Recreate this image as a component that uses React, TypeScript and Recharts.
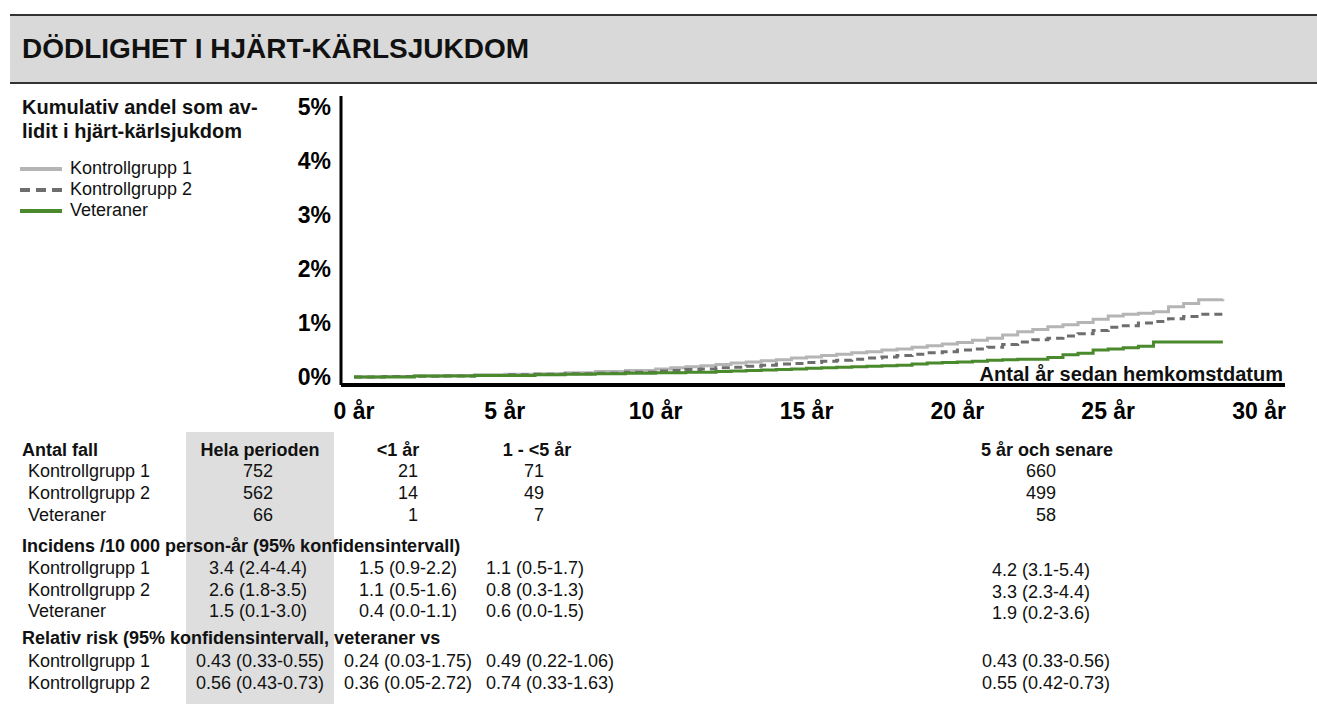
import React from 'react';
import { LineChart, Line, XAxis, YAxis } from 'recharts';

const FONT = '"Liberation Sans", Arial, Helvetica, sans-serif';

// Years since homecoming (step points)
const years = [0, 1, 2, 3, 4, 5, 6, 7, 8, 9, 10, 10.5, 11, 11.5, 12, 12.5, 13, 13.5, 14, 14.5, 15, 15.5, 16, 16.5, 17, 17.5, 18, 18.5, 19, 19.5, 20, 20.5, 21, 21.5, 22, 22.5, 23, 23.5, 24, 24.5, 25, 25.5, 26, 26.5, 27, 27.5, 28, 28.8];
// Cumulative share (%) who died of cardiovascular disease
const kontroll1 = [0, 0.01, 0.02, 0.03, 0.04, 0.05, 0.06, 0.08, 0.1, 0.12, 0.15, 0.17, 0.19, 0.21, 0.23, 0.26, 0.28, 0.3, 0.32, 0.35, 0.37, 0.4, 0.42, 0.45, 0.47, 0.5, 0.52, 0.55, 0.58, 0.61, 0.64, 0.68, 0.72, 0.78, 0.84, 0.88, 0.93, 0.97, 1.01, 1.07, 1.13, 1.16, 1.18, 1.21, 1.3, 1.36, 1.43, 1.44];
const kontroll2 = [0, 0.01, 0.015, 0.02, 0.03, 0.04, 0.05, 0.06, 0.07, 0.09, 0.11, 0.12, 0.14, 0.15, 0.17, 0.18, 0.2, 0.22, 0.24, 0.25, 0.27, 0.29, 0.31, 0.33, 0.35, 0.37, 0.4, 0.42, 0.45, 0.47, 0.5, 0.52, 0.55, 0.6, 0.65, 0.69, 0.72, 0.76, 0.8, 0.86, 0.92, 0.95, 1.0, 1.03, 1.08, 1.12, 1.16, 1.17];
const veteraner = [0, 0, 0.02, 0.02, 0.03, 0.03, 0.04, 0.05, 0.06, 0.07, 0.08, 0.08, 0.09, 0.09, 0.1, 0.11, 0.12, 0.13, 0.14, 0.15, 0.16, 0.17, 0.18, 0.19, 0.2, 0.21, 0.22, 0.24, 0.26, 0.27, 0.28, 0.29, 0.31, 0.32, 0.33, 0.33, 0.36, 0.41, 0.44, 0.5, 0.52, 0.54, 0.57, 0.65, 0.65, 0.65, 0.65, 0.65];

const xTicks = [0, 5, 10, 15, 20, 25, 30];
const yTicks = [0, 1, 2, 3, 4, 5];

const seriesNames = ['Kontrollgrupp 1', 'Kontrollgrupp 2', 'Veteraner'];
const seriesKeys = ['k1', 'k2', 'vet'];
const seriesColors = ['#b5b5b5', '#6e6e6e', '#4a8a2c'];
const seriesDash = ['', '8 5', ''];

// Table data
const rowNames = ['Kontrollgrupp 1', 'Kontrollgrupp 2', 'Veteraner'];
const rrRowNames = ['Kontrollgrupp 1', 'Kontrollgrupp 2'];
const periodHeaders = ['Hela perioden', '<1 år', '1 - <5 år', '5 år och senare'];
const casesHela = ['752', '562', '66'];
const casesLt1 = ['21', '14', '1'];
const cases1to5 = ['71', '49', '7'];
const cases5plus = ['660', '499', '58'];
const incHela = ['3.4 (2.4-4.4)', '2.6 (1.8-3.5)', '1.5 (0.1-3.0)'];
const incLt1 = ['1.5 (0.9-2.2)', '1.1 (0.5-1.6)', '0.4 (0.0-1.1)'];
const inc1to5 = ['1.1 (0.5-1.7)', '0.8 (0.3-1.3)', '0.6 (0.0-1.5)'];
const inc5plus = ['4.2 (3.1-5.4)', '3.3 (2.3-4.4)', '1.9 (0.2-3.6)'];
const rrHela = ['0.43 (0.33-0.55)', '0.56 (0.43-0.73)'];
const rrLt1 = ['0.24 (0.03-1.75)', '0.36 (0.05-2.72)'];
const rr1to5 = ['0.49 (0.22-1.06)', '0.74 (0.33-1.63)'];
const rr5plus = ['0.43 (0.33-0.56)', '0.55 (0.42-0.73)'];

const data = years.map((y, i) => ({ year: y, k1: kontroll1[i], k2: kontroll2[i], vet: veteraner[i] }));

type TxtProps = { x: number; y: number; children: React.ReactNode; bold?: boolean; size?: number; align?: 'left' | 'center' | 'right' };
const Txt = ({ x, y, children, bold, size = 18, align = 'left' }: TxtProps) => {
  const style: React.CSSProperties = {
    position: 'absolute',
    top: y - 12,
    lineHeight: '24px',
    height: 24,
    fontSize: size,
    fontWeight: bold ? 'bold' : 'normal',
    fontFamily: FONT,
    color: '#111',
    whiteSpace: 'nowrap',
  };
  if (align === 'left') style.left = x;
  else if (align === 'center') { style.left = x - 200; style.width = 400; style.textAlign = 'center'; }
  else { style.left = x - 400; style.width = 400; style.textAlign = 'right'; }
  return <div style={style}>{children}</div>;
};

export default function App() {
  const countRowsY = [471, 493, 515];
  const incRowsY = [568, 590, 611];
  const rrRowsY = [661, 683];
  return (
    <div style={{ position: 'absolute', left: 0, top: 0, width: 1317, height: 704, background: '#fff', overflow: 'hidden', fontFamily: FONT }}>
      {/* Title bar */}
      <div style={{ position: 'absolute', left: 10, top: 14, width: 1307, height: 70, boxSizing: 'border-box', background: '#d9d9d9', borderTop: '2px solid #333', borderBottom: '2px solid #333' }} />
      <Txt x={22} y={49} bold size={28}>DÖDLIGHET I HJÄRT-KÄRLSJUKDOM</Txt>

      {/* gray column behind table */}
      <div style={{ position: 'absolute', left: 186, top: 432, width: 148, height: 272, background: '#dedede' }} />

      {/* Chart */}
      <div style={{ position: 'absolute', left: 0, top: 0 }}>
        <LineChart width={1317} height={704} data={data} margin={{ top: 96, right: 32, bottom: 289, left: 281 }}>
          <XAxis
            dataKey="year"
            type="number"
            domain={[-0.43, 30.86]}
            allowDataOverflow
            ticks={xTicks}
            tickFormatter={(v: number) => `${v} år`}
            height={30}
            axisLine={{ stroke: '#000', strokeWidth: 4 }}
            tickLine={false}
            tickSize={8}
            tickMargin={10}
            tick={{ fill: '#000', fontSize: 23, fontWeight: 'bold', fontFamily: FONT }}
          />
          <YAxis
            type="number"
            domain={[-0.148, 5.204]}
            allowDataOverflow
            ticks={yTicks}
            tickFormatter={(v: number) => `${v}%`}
            width={60}
            axisLine={{ stroke: '#000', strokeWidth: 3 }}
            tickLine={false}
            tickSize={6}
            tickMargin={4}
            tick={{ fill: '#000', fontSize: 23, fontWeight: 'bold', fontFamily: FONT }}
          />
          {seriesKeys.map((k, i) => (
            <Line
              key={k}
              type="stepAfter"
              dataKey={k}
              name={seriesNames[i]}
              stroke={seriesColors[i]}
              strokeWidth={3}
              strokeDasharray={seriesDash[i] || undefined}
              dot={false}
              activeDot={false}
              isAnimationActive={false}
            />
          ))}
        </LineChart>
      </div>

      <Txt x={1283} y={374} bold size={20} align="right">Antal år sedan hemkomstdatum</Txt>

      {/* Legend */}
      <Txt x={22} y={107} bold size={20}>Kumulativ andel som av-</Txt>
      <Txt x={22} y={131} bold size={20}>lidit i hjärt-kärlsjukdom</Txt>
      {seriesNames.map((n, i) => {
        const y = [168, 189, 210][i];
        return (
          <React.Fragment key={n}>
            <svg style={{ position: 'absolute', left: 18, top: y - 5, width: 48, height: 10 }}>
              <line x1={2} y1={6} x2={44} y2={6} stroke={seriesColors[i]} strokeWidth={4} strokeDasharray={seriesDash[i] ? '10 6' : undefined} />
            </svg>
            <Txt x={70} y={y}>{n}</Txt>
          </React.Fragment>
        );
      })}

      {/* Table: Antal fall */}
      <Txt x={22} y={450} bold>Antal fall</Txt>
      <Txt x={260} y={450} bold align="center">{periodHeaders[0]}</Txt>
      <Txt x={398} y={450} bold align="center">{periodHeaders[1]}</Txt>
      <Txt x={537} y={450} bold align="center">{periodHeaders[2]}</Txt>
      <Txt x={1047} y={450} bold align="center">{periodHeaders[3]}</Txt>
      {rowNames.map((r, i) => (
        <React.Fragment key={'c' + i}>
          <Txt x={28} y={countRowsY[i]}>{r}</Txt>
          <Txt x={273} y={countRowsY[i]} align="right">{casesHela[i]}</Txt>
          <Txt x={418} y={countRowsY[i]} align="right">{casesLt1[i]}</Txt>
          <Txt x={544} y={countRowsY[i]} align="right">{cases1to5[i]}</Txt>
          <Txt x={1056} y={countRowsY[i]} align="right">{cases5plus[i]}</Txt>
        </React.Fragment>
      ))}

      {/* Incidens */}
      <Txt x={22} y={546} bold>Incidens /10 000 person-år (95% konfidensintervall)</Txt>
      {rowNames.map((r, i) => (
        <React.Fragment key={'i' + i}>
          <Txt x={28} y={incRowsY[i]}>{r}</Txt>
          <Txt x={258} y={incRowsY[i]} align="center">{incHela[i]}</Txt>
          <Txt x={408} y={incRowsY[i]} align="center">{incLt1[i]}</Txt>
          <Txt x={486} y={incRowsY[i]}>{inc1to5[i]}</Txt>
          <Txt x={1041} y={incRowsY[i] + 2} align="center">{inc5plus[i]}</Txt>
        </React.Fragment>
      ))}

      {/* Relativ risk */}
      <Txt x={22} y={638} bold>Relativ risk (95% konfidensintervall, veteraner vs</Txt>
      {rrRowNames.map((r, i) => (
        <React.Fragment key={'r' + i}>
          <Txt x={28} y={rrRowsY[i]}>{r}</Txt>
          <Txt x={260} y={rrRowsY[i]} align="center">{rrHela[i]}</Txt>
          <Txt x={408} y={rrRowsY[i]} align="center">{rrLt1[i]}</Txt>
          <Txt x={486} y={rrRowsY[i]}>{rr1to5[i]}</Txt>
          <Txt x={1046} y={rrRowsY[i]} align="center">{rr5plus[i]}</Txt>
        </React.Fragment>
      ))}
    </div>
  );
}
